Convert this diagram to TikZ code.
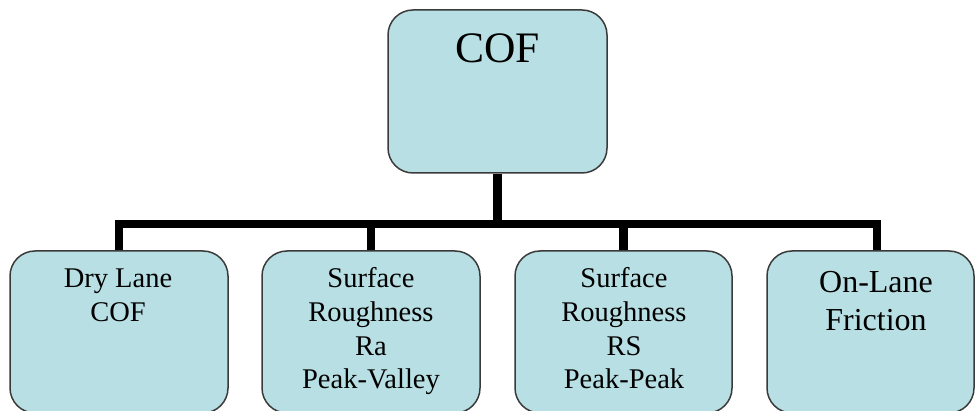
\documentclass[tikz,border=0pt]{standalone}
\usepackage{fontspec}
\setmainfont{Liberation Serif}
\definecolor{boxfill}{HTML}{B8DFE3}
\definecolor{boxline}{HTML}{3A3A3A}
\tikzset{
  box/.style={draw=boxline, line width=1.5pt, fill=boxfill, rounded corners=25pt, inner sep=0pt},
  conn/.style={draw=black, line width=8.5pt, line join=miter},
  txt/.style={anchor=north, inner sep=0pt, align=center, text=black},
}
\begin{document}
\begin{tikzpicture}[x=1pt,y=-1pt]
\useasboundingbox (0,0) rectangle (975,411);
\clip (0,0) rectangle (975,411);
% boxes
\node[box, minimum width=219pt, minimum height=163pt] (top) at (497.5,91.5) {};
\node[box, minimum width=218pt, minimum height=162pt] (b1) at (119,332) {};
\node[box, minimum width=218pt, minimum height=162pt] (b2) at (371,332) {};
\node[box, minimum width=217pt, minimum height=162pt] (b3) at (623.5,332) {};
\node[box, minimum width=207pt, minimum height=162pt] (b4) at (870.5,332) {};
% connectors
\coordinate (j4) at (877,224);
\draw[conn] (top.south) -- (top.south |- j4);
\draw[conn] (b1.north) |- (j4) -- (b4.north -| j4);
\draw[conn] (b2.north) -- (b2.north |- j4);
\draw[conn] (b3.north) -- (b3.north |- j4);
% texts
\node[txt, font=\rmfamily\fontsize{43.5}{50}\selectfont] (ttop) at (497.5,34) {COF};
\node[txt, font=\rmfamily\fontsize{28.5}{33.7}\selectfont] (t1) at (118,269) {Dry Lane\\COF};
\node[txt, font=\rmfamily\fontsize{28.5}{33.7}\selectfont] (t2) at (371,267.5) {Surface\\Roughness\\Ra\\Peak-Valley};
\node[txt, font=\rmfamily\fontsize{28.5}{33.7}\selectfont] (t3) at (624,267.5) {Surface\\Roughness\\RS\\Peak-Peak};
\node[txt, font=\rmfamily\fontsize{32}{38}\selectfont] (t4) at (876,271) {On-Lane\\Friction};
\end{tikzpicture}
\end{document}
